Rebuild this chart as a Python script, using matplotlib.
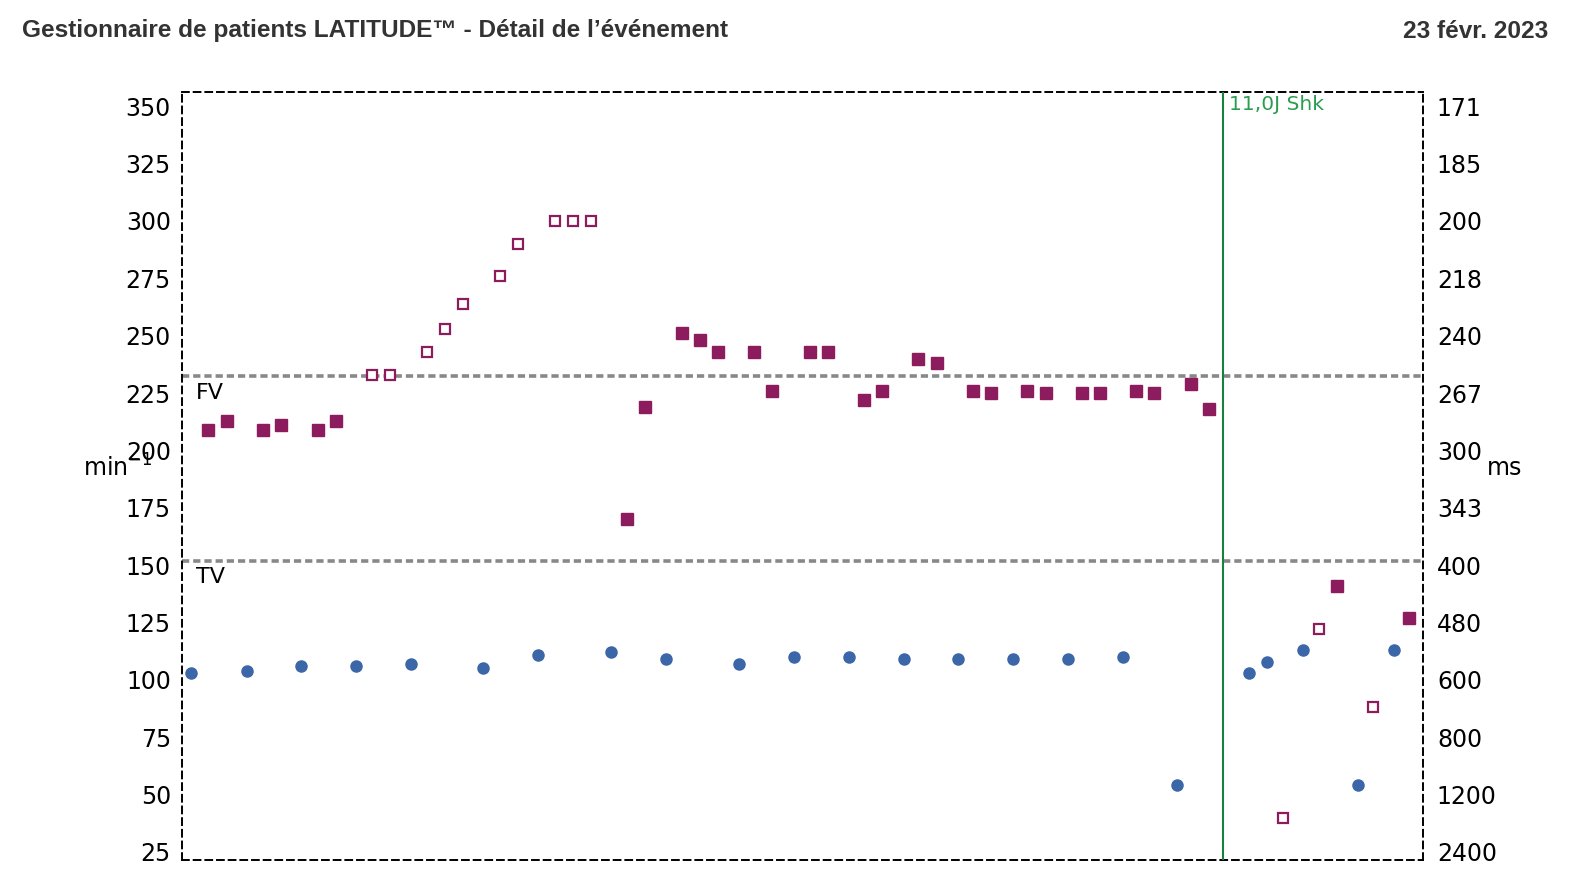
import matplotlib
matplotlib.use('Agg')
import matplotlib.pyplot as plt

# event episode, x positions are time offsets (arbitrary units), y in min-1
title = "Gestionnaire de patients LATITUDE\u2122 - Détail de l\u2019événement"
date_txt = "23 févr. 2023"

atrial_t = [9, 65, 119, 174, 229, 301, 356, 429, 484, 557, 612, 666, 721, 775,
            830, 885, 940, 994, 1066, 1084, 1120, 1175, 1211]
atrial_v = [103, 104, 106, 106, 107, 105, 111, 112, 109, 107, 110, 110, 109, 109,
            109, 109, 110, 54, 103, 108, 113, 54, 113]

vent_t = [26, 45, 81, 99, 136, 154, 445, 463, 500, 518, 536, 572, 590, 627, 645,
          681, 699, 735, 754, 790, 808, 844, 863, 899, 917, 953, 971, 1008, 1026,
          1154, 1226]
vent_v = [209, 213, 209, 211, 209, 213, 170, 219, 251, 248, 243, 243, 226, 243, 243,
          222, 226, 240, 238, 226, 225, 226, 225, 225, 225, 226, 225, 229, 218,
          141, 127]

# unclassified / refractory ventricular beats (open squares)
vopen_t = [190, 208, 245, 263, 281, 318, 336, 373, 391, 409, 1100, 1136, 1190]
vopen_v = [233, 233, 243, 253, 264, 276, 290, 300, 300, 300, 40, 122, 88]

shock_t = 1040
shock_txt = "11,0J Shk"
fv_rate = 232.5
tv_rate = 152

left_ticks = [25, 50, 75, 100, 125, 150, 175, 200, 225, 250, 275, 300, 325, 350]
ms_labels = ['2400', '1200', '800', '600', '480', '400', '343', '300', '267',
             '240', '218', '200', '185', '171']

purple = '#8c1c5e'
blue = '#3b67a8'

fig = plt.figure(figsize=(15.70, 8.86), dpi=100)
ax = fig.add_axes([182/1570, 1 - 860/886, 1241/1570, 768/886])

ax.plot(atrial_t, atrial_v, 'o', color=blue, ms=8, mec=blue, zorder=4)
ax.plot(vent_t, vent_v, 's', color=purple, ms=8, mec=purple, zorder=4)
ax.plot(vopen_t, vopen_v, 's', mfc='white', mec=purple, mew=1.6, ms=7, zorder=4)

for r in (fv_rate, tv_rate):
    ax.axhline(r, color='#888888', lw=2.6, ls=(0, (2, 1.1)), zorder=2)
ax.text(14, fv_rate - 3, 'FV', fontsize=16, va='top', ha='left')
ax.text(14, tv_rate - 3, 'TV', fontsize=16, va='top', ha='left')

ax.axvline(shock_t, color='#1a7f40', lw=1.5, zorder=3)
ax.text(shock_t + 6, 355, shock_txt, color='#2a9d50', fontsize=14.5,
        va='top', ha='left')

ax.set_xlim(0, 1240)
ax.set_ylim(21.5, 356.2)
ax.set_xticks([])
ax.set_yticks(left_ticks)
ax.tick_params(axis='y', length=0, pad=8, labelsize=17)
for sp in ax.spines.values():
    sp.set_linestyle((0, (3.5, 2.5)))
    sp.set_linewidth(1.4)
    sp.set_color('black')

ax2 = ax.twinx()
ax2.set_ylim(ax.get_ylim())
ax2.set_yticks(left_ticks)
ax2.set_yticklabels(ms_labels)
ax2.tick_params(axis='y', length=0, pad=10, labelsize=17)
for sp in ax2.spines.values():
    sp.set_visible(False)

fig.text(83/1570, 1 - 468/886, 'min$^{-1}$', fontsize=17, va='center', ha='left')
fig.text(1487/1570, 1 - 468/886, 'ms', fontsize=17, va='center', ha='left')

fig.text(22/1570, 1 - 31/886, title, fontsize=17.6, fontweight='bold',
         family='Liberation Sans', color='#333333', va='center', ha='left')
fig.text(1548/1570, 1 - 31/886, date_txt, fontsize=17.6, fontweight='bold',
         family='Liberation Sans', color='#333333', va='center', ha='right')

fig.savefig('out.png', dpi=100)
